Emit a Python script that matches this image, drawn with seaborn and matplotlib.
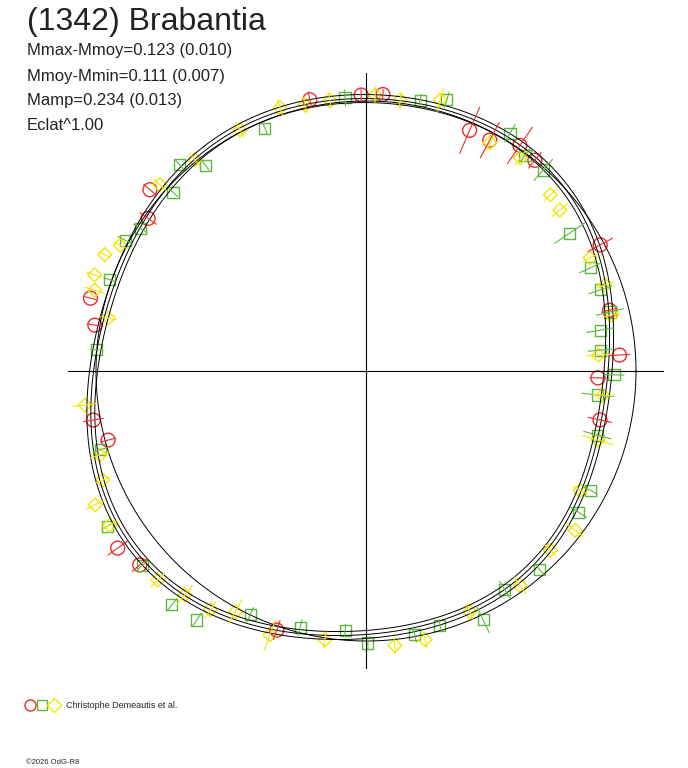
import numpy as np
import matplotlib
matplotlib.use("Agg")
import matplotlib.pyplot as plt
import seaborn as sns

# model shape: radius (px-like units, circle = 270) at sample angles
model_ang = [0, 30, 60, 90, 120, 150, 180, 210, 225, 240, 255, 270, 300, 330]
model_rad = [242, 264, 271, 276, 270, 270, 271, 290, 293, 285, 267, 265, 260, 246]
ref_rad = 270
band = 4

red_ang = [91, 86.5, 101.7, 66.7, 61.8, 55.7, 51.3, 28.3, 14, 3.6, -1.7, -11.8,
           165.2, 170.4, 190.2, 195, 140, 145, 215.5, 220.6, 251]
red_rad = [276, 277, 277, 262, 262, 273, 270, 266, 251, 254, 232, 239,
           285, 275, 277, 267, 282, 266, 305, 298, 274]
red_err = [6, 5, 8, 25, 20, 22, 10, 14, 8, 10, 8, 12, 6, 8, 10, 8, 8, 10, 12, 10, 10]

green_ang = [132.1, 137.2, 147.7, 128, 112.6, 94.4, 78.7, 73.4, 58.8, 53.6, 48.6, 34.1,
             24.7, 19.1, 13.6, 9.9, 5.1, -0.9, -5.9, -15.5, -28, -33.6, -48.8, -57.6,
             -64.8, -73.8, -79.5, -89.6, -94.6, -104.4, -115.4, -124.2, -129.7, -139,
             -149, -163.5, 175.5, 160.4, 151.5]
green_rad = [278, 263, 267, 261, 263, 274, 276, 283, 278, 268, 268, 246,
             247, 248, 251, 238, 235, 248, 233, 240, 254, 255, 264, 259,
             275, 265, 268, 272, 260, 265, 270, 301, 304, 296,
             302, 277, 270, 272, 274]
green_err = [6, 6, 8, 6, 6, 8, 6, 8, 10, 8, 14, 18,
             12, 12, 14, 14, 12, 10, 16, 14, 8, 10, 8, 10,
             14, 6, 8, 6, 6, 8, 8, 8, 8, 6, 6, 8, 6, 6, 8]

yellow_ang = [160.5, 156, 168.4, 186.9, 197.5, 202.5, 206.3, 211, 225.1, 231, 236.9,
              241.5, 250, 261.3, 276, 282.4, 293.3, 305.7, 315.8, 322.7, 330.9, 343.4,
              354.2, 3.9, 12.8, 19.8, 26.8, 39.7, 43.7, 54.1, 61.5, 74.7, 82.8, 88.1,
              97.6, 102.9, 108.1, 117.6, 129, 137.9, 152.9, 163.4]
yellow_rad = [288, 286, 263, 283, 279, 285, 302, 299, 295, 288, 285,
              274, 281, 272, 276, 275, 262, 264, 257, 263, 245, 242,
              238, 233, 252, 254, 251, 252, 255, 263, 260, 281, 273, 276,
              273, 273, 277, 272, 272, 278, 276, 283]
yellow_err = [8, 6, 8, 12, 10, 8, 10, 8, 10, 12, 10,
              14, 16, 8, 8, 8, 8, 10, 8, 10, 8, 16,
              10, 12, 8, 8, 8, 10, 8, 8, 8, 12, 8, 8,
              8, 8, 8, 8, 8, 8, 8, 10]

sns.set_style("white")
plt.rcParams['font.family'] = ['Liberation Sans', 'DejaVu Sans']

fig = plt.figure(figsize=(6.88, 7.68), dpi=100)
ax = fig.add_axes([68 / 688, (768 - 371 - 298) / 768, 596 / 688, 596 / 768])
lim = 298
ax.set_xlim(-lim, lim)
ax.set_ylim(-lim, lim)
ax.set_axis_off()
ax.plot([-lim, lim], [0, 0], color='black', lw=0.8)
ax.plot([0, 0], [-lim, lim], color='black', lw=0.8)

# smooth periodic model via Fourier fit of samples
th = np.radians(model_ang)
order = 4
def basis(t):
    cols = [np.ones_like(t)]
    for k in range(1, order + 1):
        cols += [np.cos(k * t), np.sin(k * t)]
    return np.column_stack(cols)
coef, *_ = np.linalg.lstsq(basis(th), np.array(model_rad, float), rcond=None)
tt = np.linspace(0, 2 * np.pi, 721)
rr = basis(tt) @ coef
for d in (-band, 0, band):
    sns.lineplot(x=(rr + d) * np.cos(tt), y=(rr + d) * np.sin(tt), sort=False,
                 estimator=None, color='black', lw=0.7, ax=ax)
sns.lineplot(x=ref_rad * np.cos(tt), y=ref_rad * np.sin(tt), sort=False,
             estimator=None, color='black', lw=0.7, ax=ax)

series = [
    (red_ang, red_rad, red_err, '#ee2a2a', 'o', 10),
    (green_ang, green_rad, green_err, '#5cb83a', 's', 8),
    (yellow_ang, yellow_rad, yellow_err, '#f2e600', 'D', 7),
]
for ang, rad, err, col, mk, ms in series:
    a = np.radians(ang)
    r = np.array(rad, float)
    e = np.array(err, float)
    for ai, ri, ei in zip(a, r, e):
        ax.plot([(ri - ei) * np.cos(ai), (ri + ei) * np.cos(ai)],
                [(ri - ei) * np.sin(ai), (ri + ei) * np.sin(ai)], color=col, lw=0.8)
    sns.scatterplot(x=r * np.cos(a), y=r * np.sin(a), marker=mk, s=ms ** 2,
                    facecolor='none', edgecolor=col, linewidth=1.0, ax=ax)

fig.text(27 / 688, 1 - 22 / 768, "(1342) Brabantia", fontsize=23, color='#222222', va='center')
for i, s in enumerate(["Mmax-Mmoy=0.123 (0.010)", "Mmoy-Mmin=0.111 (0.007)",
                       "Mamp=0.234 (0.013)", "Eclat^1.00"]):
    fig.text(27 / 688, 1 - (51 + 25 * i) / 768, s, fontsize=12, color='#222222', va='center')

fig.text(66 / 688, 1 - 705 / 768, "Christophe Demeautis et al.", fontsize=6.5, va='center')
for x, mk, col in [(30, 'o', '#ee2a2a'), (42, 's', '#5cb83a'), (54, 'D', '#f2e600')]:
    fig.lines.append(plt.Line2D([x / 688], [1 - 705 / 768], marker=mk, ms=8 if mk == 'o' else 7,
                                mfc='none', mec=col, mew=1.0, transform=fig.transFigure))
fig.text(26 / 688, 1 - 763 / 768, "©2026 OdG-R8", fontsize=5.5, va='center')

fig.savefig("out.png", dpi=100)
